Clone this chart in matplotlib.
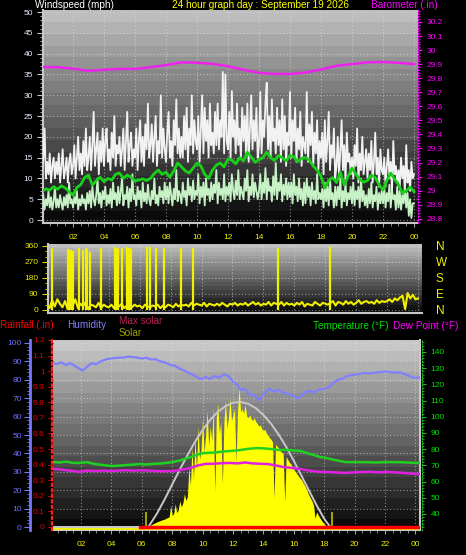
import numpy as np
import matplotlib
matplotlib.use('Agg')
import matplotlib.pyplot as plt
from matplotlib.ticker import MultipleLocator

plt.rcParams['font.family'] = ['Liberation Sans', 'DejaVu Sans']

# ---------------- data ----------------
hour_ticks = [2, 4, 6, 8, 10, 12, 14, 16, 18, 20, 22, 24]
hour_labels = ['02', '04', '06', '08', '10', '12', '14', '16', '18', '20', '22', '00']

# wind gust (mph), 5-minute samples from 00:00
gust = [12, 15, 22, 10, 14, 11, 16, 9, 13, 15, 10, 14,
        11, 16, 9, 13, 17, 10, 12, 15, 9, 14, 16, 11,
        13, 18, 10, 15, 20, 12, 16, 11, 19, 13, 22, 12,
        15, 20, 12, 18, 26, 13, 17, 21, 11, 19, 14, 22,
        13, 19, 22, 14, 17, 12, 21, 15, 25, 13, 18, 16,
        20, 13, 17, 22, 12, 19, 26, 14, 18, 21, 13, 17,
        15, 22, 12, 19, 24, 14, 20, 13, 23, 17, 28, 15,
        18, 23, 14, 20, 25, 13, 19, 16, 30, 15, 22, 17,
        14, 21, 26, 15, 19, 13, 24, 18, 29, 16, 22, 15,
        20, 15, 25, 17, 27, 14, 22, 18, 30, 16, 24, 19,
        17, 25, 14, 22, 30, 16, 27, 19, 24, 15, 28, 18,
        21, 16, 26, 18, 28, 17, 24, 20, 35.6, 16, 35, 19,
        17, 26, 15, 31, 20, 24, 16, 28, 18, 22, 15, 27,
        19, 25, 16, 28, 14, 22, 30, 17, 24, 19, 27, 15,
        18, 30.8, 16, 24, 20, 28, 33, 17, 25, 15, 29, 19,
        22, 16, 27, 18, 24, 14, 29, 17, 25, 13, 21, 18,
        30.8, 15, 24, 19, 27, 14, 22, 17, 26, 13, 20, 18,
        16, 30.8, 14, 23, 18, 26, 13, 21, 16, 24, 12, 19,
        15, 21, 11, 24, 14, 19, 26, 12, 18, 15, 22, 10,
        13, 20, 10, 17, 24, 12, 18, 9, 21, 14, 16, 11,
        15, 10, 18, 13, 22, 9, 16, 12, 20, 11, 14, 17,
        10, 16, 12, 19, 9, 14, 21, 11, 15, 8, 17, 12,
        11, 15, 8, 13, 17, 10, 14, 7, 19, 11, 13, 9,
        12, 8, 15, 10, 13, 6, 18, 9, 12, 7, 14, 10,
        11]

# wind speed (mph), 5-minute samples
wind = [4, 6, 2.5, 5, 3.5, 7, 3, 5.5, 2.5, 4.5, 8, 3,
        5, 3, 6, 4, 2.5, 5.5, 3.5, 6, 3, 9, 4, 5,
        3, 5.5, 4, 7, 2.5, 5, 3.5, 6, 4, 5, 2.5, 6.5,
        4, 7, 3, 8, 5, 3.5, 6, 10, 4, 6.5, 3, 7,
        5, 8, 3.5, 6, 4, 7.5, 3, 9, 5, 6.5, 3.5, 8,
        4, 7, 10, 3.5, 6, 5, 8, 3, 7.5, 4.5, 11, 5,
        6, 3.5, 8, 5, 7, 3, 9, 4.5, 6.5, 4, 8.5, 5,
        3.5, 7, 5, 10, 4, 6, 3.5, 8, 5.5, 7, 4, 9,
        5, 8, 4, 9, 6, 3.5, 7.5, 5, 12, 4.5, 7, 6,
        4, 9, 5.5, 7, 3.5, 10, 6, 8, 4.5, 9.5, 5, 7,
        6, 11, 4, 8, 5.5, 9, 3.5, 10, 6, 7.5, 4.5, 9,
        5, 8.5, 6.5, 12, 4, 9, 6, 7.5, 5, 11, 4.5, 8,
        6, 9, 4.5, 11, 7, 5, 9.5, 6, 12, 5, 8, 6.5,
        5, 10, 7, 12, 4.5, 8, 6, 11, 5.5, 9, 7, 5,
        7, 11, 5, 9, 6.5, 12.5, 5, 10, 7, 8, 4.5, 10.5,
        6, 13.7, 5, 9, 7, 11, 4.5, 8.5, 6, 10, 5, 9,
        5.5, 9, 4, 11, 6, 8, 4.5, 10, 5, 7.5, 3.5, 9,
        4, 10, 5.5, 8, 3.5, 9, 5, 7, 4, 11, 5, 6.5,
        5, 7.5, 3, 9, 4.5, 8, 3.5, 10, 5, 6.5, 3, 8,
        3.5, 8, 5, 10, 3, 7, 4.5, 9, 3.5, 6.5, 5, 8,
        4, 9, 3.5, 7, 5, 8, 3, 10, 4.5, 7, 3.5, 6,
        3, 7.5, 4, 9, 3, 6, 4.5, 8, 2.5, 6.5, 4, 7,
        4, 8, 3, 6.5, 4.5, 8.5, 3, 7, 5, 6, 2.5, 8,
        3, 7, 2.5, 6, 4, 8, 3, 6.5, 1, 5, 0.5, 4,
        4]

# 10-minute average wind (mph), 15-minute samples
wind_avg = [6.7, 7.5, 7.2, 8.0, 7.4, 8.2, 7.7, 6.8, 6.0, 7.8, 8.5, 10.2,
            10.8, 8.4, 9.5, 10.3, 9.2, 10.0, 9.6, 11.0, 11.3, 10.0, 10.8, 10.3,
            9.4, 9.6, 9.9, 9.5, 10.0, 11.2, 12.0, 11.0, 11.5, 10.3, 11.8, 13.7,
            12.8, 11.8, 11.3, 12.5, 13.7, 13.0, 11.0, 10.0, 12.0, 13.2, 13.7, 12.8,
            14.7, 14.4, 13.5, 15.0, 14.2, 16.3, 15.2, 13.9, 14.5, 15.0, 16.3, 15.0,
            14.3, 15.5, 15.0, 14.2, 15.5, 15.2, 14.0, 14.8, 15.0, 14.4, 13.0, 12.0,
            10.5, 7.7, 9.5, 10.2, 9.0, 11.5, 8.4, 10.5, 12.5, 11.0, 9.8, 9.1,
            9.5, 10.8, 10.2, 8.5, 7.2, 9.5, 11.3, 9.8, 8.5, 6.5, 7.0, 7.9,
            6.8]

# barometer (inHg), hourly
baro = [29.880, 29.878, 29.868, 29.852, 29.860, 29.866, 29.866, 29.878, 29.893,
        29.913, 29.910, 29.902, 29.885, 29.860, 29.838, 29.830, 29.830, 29.840,
        29.862, 29.888, 29.900, 29.913, 29.915, 29.910, 29.900]

# wind direction (deg), 10-minute samples
wind_dir = [30, 10, 55, 20, 60, 35,
            15, 50, 5, 40, 25, 60,
            10, 35, 20, 45, 5, 30,
            25, 15, 40, 10, 30, 20,
            15, 30, 10, 25, 20, 35,
            10, 25, 40, 15, 30, 20,
            25, 10, 30, 20, 15, 25,
            20, 30, 10, 25, 15, 30,
            25, 15, 35, 20, 30, 25,
            30, 20, 40, 25, 35, 30,
            25, 40, 20, 35, 30, 25,
            35, 25, 40, 30, 20, 35,
            30, 40, 25, 35, 30, 40,
            25, 35, 45, 30, 40, 25,
            35, 30, 45, 25, 40, 35,
            30, 45, 25, 40, 30, 35,
            25, 40, 30, 45, 20, 35,
            30, 25, 45, 35, 25, 40,
            35, 30, 40, 50, 25, 45,
            40, 30, 50, 35, 45, 30,
            40, 55, 35, 45, 50, 40,
            45, 35, 55, 40, 50, 45,
            50, 60, 45, 65, 55, 70,
            80, 5, 95, 65, 85, 60,
            65]
dir_spike_t = [0.32, 1.35, 1.42, 1.5, 1.58, 1.65, 2.06, 2.32, 2.5, 2.58, 2.77,
               3.48, 4.39, 4.52, 4.58, 4.84, 5.2, 5.28, 5.36, 5.45, 6.45, 6.65,
               7.03, 7.55, 8.65, 9.42, 14.97, 18.32]
dir_spike_v = [350, 345, 345, 340, 340, 330, 350, 335, 350, 345, 325,
               350, 355, 350, 345, 350, 355, 350, 350, 345, 355, 355,
               350, 350, 350, 350, 350, 355]

# humidity (%)
hum_t = [0.15, 0.4, 0.7, 1.0, 1.3, 1.6, 1.9, 2.1, 2.4, 2.7, 3.0, 3.3, 3.6, 3.9,
         4.2, 4.5, 4.8, 5.1, 5.4, 5.7, 6.0, 6.3, 6.6, 6.9, 7.2, 7.5, 7.9, 8.2,
         8.5, 8.8, 9.0, 9.3, 9.6, 9.9, 10.2, 10.5, 10.8, 11.1, 11.4, 11.7, 12.0,
         12.3, 12.5, 12.8, 13.1, 13.4, 13.7, 13.9, 14.1, 14.4, 14.7, 15.0, 15.3,
         15.6, 15.9, 16.2, 16.4, 16.7, 17.0, 17.3, 17.6, 18.0, 18.3, 18.6, 18.9,
         19.2, 19.5, 19.8, 20.2, 20.6, 21.0, 21.5, 22.0, 22.5, 23.0, 23.3, 23.6,
         24.0, 24.3]
hum = [89, 88.5, 89.5, 88, 89, 87.5, 86, 85, 87, 89, 88.5, 90, 91, 91.5,
       91.8, 92, 92, 92.6, 92.3, 92, 91.5, 92, 91, 91.2, 90, 89.5, 88, 87.5,
       86, 85, 84, 83, 81.5, 80.4, 81.5, 80.5, 82, 81, 83, 82, 79,
       77, 74.5, 75, 72, 71.5, 69, 71, 73, 75, 73.5, 74.5, 73,
       72.5, 71.5, 70, 70.5, 73, 74, 73, 74.5, 75, 76, 78.5, 80,
       80.5, 82, 82.6, 83, 83.7, 83.5, 84, 84.5, 84, 84, 83, 82,
       81, 81.2]

# temperature (F)
temp_t = [0.15, 0.6, 1.0, 1.5, 1.9, 2.4, 2.8, 3.2, 3.6, 4.0, 4.5, 5.0, 5.5, 5.9,
          6.3, 6.8, 7.3, 8.0, 8.5, 9.0, 9.2, 9.6, 10.0, 10.5, 10.9, 11.3, 11.7,
          12.0, 12.5, 13.0, 13.6, 14.0, 14.6, 15.0, 15.5, 16.0, 16.4, 16.8, 17.3,
          17.7, 18.1, 18.6, 19.0, 19.4, 20.0, 20.7, 21.3, 22.1, 22.8, 23.4, 24.0, 24.3]
temp = [72.1, 71.8, 72.3, 71.5, 71.5, 72, 71, 70.5, 70, 69.6, 69.8, 70.2, 70.5, 70.9,
        70.5, 71, 71.2, 72, 73, 74.5, 75, 76.5, 77.5, 77.8, 78, 78.5, 78.8,
        79, 79.5, 80.2, 80.7, 80.5, 80, 79.5, 79.6, 79.2, 79, 77.8, 76.4,
        75.2, 74.6, 73.5, 72.8, 72, 72, 72, 71.8, 72, 72, 71.8, 71.5, 71.5]

# dew point (F)
dew_t = [0.15, 0.6, 1.0, 1.5, 1.9, 2.4, 3.0, 3.5, 4.0, 4.5, 5.0, 5.5, 5.9, 6.4,
         7.0, 7.5, 8.0, 8.6, 9.2, 9.7, 10.2, 10.7, 11.2, 11.8, 12.3, 12.8, 13.3,
         13.8, 14.3, 14.8, 15.3, 15.8, 16.4, 17.0, 17.7, 18.5, 19.4, 20.2, 21.0,
         21.6, 22.1, 22.8, 23.4, 24.0, 24.3]
dew = [67.8, 67.5, 67, 66.5, 66, 66.8, 66.5, 66.8, 66.5, 66.8, 67, 66.7, 67, 66.8,
       66.5, 66.4, 66.5, 67.2, 68.4, 70, 70.9, 71, 71.3, 71.5, 71.2, 71.8, 71.2,
       71, 70.8, 70, 69, 68.5, 67.8, 66.8, 66, 65.8, 65.3, 65.8, 66,
       65.7, 66, 65.6, 65.2, 64.7, 64.8]

# solar radiation (W/m2), 6-minute samples from 06:18
solar = [0, 3, 8, 14, 20, 26, 30, 36, 40, 44,
         48, 52, 55, 60, 66, 70, 150, 80, 95, 160,
         100, 120, 180, 140, 165, 230, 185, 210, 420, 290,
         560, 330, 620, 400, 700, 470, 540, 760, 520, 640,
         810, 560, 700, 600, 830, 250, 760, 860, 650, 740,
         300, 720, 880, 690, 760, 900, 740, 780, 820, 450,
         800, 970, 800, 820, 790, 850, 770, 760, 780, 750,
         740, 760, 730, 720, 700, 710, 680, 670, 680, 650,
         640, 620, 610, 590, 200, 575, 560, 550, 530, 520,
         510, 180, 490, 470, 450, 440, 420, 400, 385, 370,
         355, 340, 330, 310, 290, 270, 245, 220, 200, 180,
         150, 60, 105, 85, 65, 50, 35, 22, 12, 5,
         0]
solar_start = 6.3
solar_step = 0.1

maxsolar_t = [0.2, 6.4, 6.5, 7.0, 7.5, 8.0, 8.5, 9.0, 9.5, 10.0, 10.5, 11.0, 11.5,
              12.0, 12.5, 13.0, 13.5, 14.0, 14.5, 15.0, 15.5, 16.0, 16.5, 17.0,
              17.5, 18.0, 18.4, 24.3]
maxsolar = [0, 0, 11, 94, 191, 296, 399, 498, 592, 674, 745, 800, 840,
            864, 869, 856, 826, 779, 718, 643, 557, 460, 357, 253,
            151, 57, 0, 0]

solar_mark_t = [6.3, 18.5]
solar_mark_v = [105, 105]

rain_t = [5.9, 24.3]
rain = [0.0, 0.0]

# ---------------- figure ----------------
W, H, DPI = 466, 555, 100
fig = plt.figure(figsize=(W / DPI, H / DPI), dpi=DPI, facecolor='black')


def px_axes(l, t, r, b):
    return fig.add_axes([l / W, 1 - b / H, (r - l) / W, (b - t) / H])


def backdrop(ax, xlim, ylim, top=0.74, bottom=0.04, steps=18):
    g = np.linspace(bottom, top, steps).reshape(-1, 1)
    ax.imshow(g, extent=[xlim[0], xlim[1], ylim[0], ylim[1]], origin='lower',
              aspect='auto', cmap='gray', vmin=0, vmax=1,
              interpolation='nearest', zorder=0)
    ax.set_xlim(*xlim)
    ax.set_ylim(*ylim)
    ax.set_facecolor('black')


GRID = dict(color='#e6e6e6', linestyle=(0, (1, 2)), linewidth=0.8, alpha=0.55)
FRAME = '#c8c8c8'
TXT = 7.2
TICK = 6

# ---- top panel: wind speed + barometer ----
XL = (0.065, 24.26)
ax_t = px_axes(43, 10, 418, 223)
backdrop(ax_t, XL, (-0.72, 50.5))
ax_t.set_xticks(hour_ticks)
ax_t.set_xticklabels(hour_labels)
ax_t.xaxis.set_minor_locator(MultipleLocator(0.5))
ax_t.set_yticks(range(0, 51, 5))
ax_t.yaxis.set_minor_locator(MultipleLocator(1))
ax_t.grid(True, which='major', **GRID)
ax_t.tick_params(axis='x', which='both', colors='#a0a0a0', labelcolor='#f0f000',
                 labelsize=TICK, length=3, pad=5)
ax_t.tick_params(axis='x', which='minor', length=2)
ax_t.tick_params(axis='y', which='both', colors=FRAME, labelcolor='#e4ecff',
                 labelsize=TICK, length=4, pad=3)
ax_t.tick_params(axis='y', which='minor', length=2)
for s in ['top', 'right']:
    ax_t.spines[s].set_visible(False)
for s in ['left', 'bottom']:
    ax_t.spines[s].set_color(FRAME)
    ax_t.spines[s].set_linewidth(1.5)

t5 = np.arange(len(gust)) / 12.0
tw5 = np.arange(len(wind)) / 12.0
t15 = np.arange(len(wind_avg)) * 0.25
ax_t.plot(t5, gust, color='#f2f2f2', lw=1.3, zorder=3)
ax_t.plot(tw5, wind, color='#c6f2c6', lw=1.3, zorder=4)
ax_t.plot(t15, wind_avg, color='#18d018', lw=2.0, zorder=5)

ax_baro = ax_t.twinx()
ax_baro.set_xlim(*XL)
ax_baro.set_ylim(28.77, 30.285)
ax_baro.plot(np.arange(len(baro)), baro, color='#ee22ee', lw=1.8)
bt = np.round(np.arange(28.8, 30.21, 0.1), 1)
ax_baro.set_yticks(bt)
ax_baro.set_yticklabels([f'{v:g}' for v in bt])
ax_baro.yaxis.set_minor_locator(MultipleLocator(0.02))
ax_baro.tick_params(axis='y', which='both', colors='#ff00ff', labelcolor='#ff00ff',
                    labelsize=TICK, length=3, pad=3)
ax_baro.tick_params(axis='y', which='minor', length=1.5)
for s in ['top', 'left', 'bottom']:
    ax_baro.spines[s].set_visible(False)
ax_baro.spines['right'].set_color('#ff00ff')
ax_baro.spines['right'].set_linestyle(':')

# ---- middle panel: wind direction ----
ax_m = px_axes(48, 244, 422, 313)
backdrop(ax_m, XL, (-17, 371))
ax_m.set_xticks(hour_ticks)
ax_m.tick_params(axis='x', labelbottom=False, length=0)
ax_m.set_yticks([0, 90, 180, 270, 360])
ax_m.yaxis.set_minor_locator(MultipleLocator(30))
ax_m.grid(True, which='major', **GRID)
ax_m.tick_params(axis='y', which='both', colors='#d8d800', labelcolor='#e8e800',
                 labelsize=TICK, length=4, pad=3)
ax_m.tick_params(axis='y', which='minor', length=2)
for s in ['top', 'right']:
    ax_m.spines[s].set_visible(False)
for s in ['left', 'bottom']:
    ax_m.spines[s].set_color(FRAME)
    ax_m.spines[s].set_linewidth(1.5)
t10 = np.arange(len(wind_dir)) / 6.0
ax_m.plot(t10, wind_dir, color='#f0f000', lw=1.5, zorder=3)
ax_m.vlines(dir_spike_t, 0, dir_spike_v, color='#f0f000', lw=1.6, zorder=3)

ax_mr = ax_m.twinx()
ax_mr.set_ylim(-17, 371)
ax_mr.set_yticks([0, 90, 180, 270, 360])
ax_mr.set_yticklabels(['N', 'E', 'S', 'W', 'N'])
ax_mr.tick_params(axis='y', length=0, pad=10, labelsize=8.5, labelcolor='#f0f000')
for s in ax_mr.spines.values():
    s.set_visible(False)

# ---- bottom panel ----
XB = (0.16, 24.3)
ax_bg = px_axes(53, 340, 420, 530)
backdrop(ax_bg, XB, (-1.6, 101.6), top=0.78)
ax_bg.set_xticks(hour_ticks)
ax_bg.set_xticklabels(hour_labels)
ax_bg.xaxis.set_minor_locator(MultipleLocator(0.5))
ax_bg.set_yticks(range(0, 101, 10))
ax_bg.grid(True, which='major', **GRID)
ax_bg.tick_params(axis='y', left=False, labelleft=False)
ax_bg.tick_params(axis='x', which='both', colors='#a0a0a0', labelcolor='#f0f000',
                  labelsize=TICK, length=3, pad=5)
ax_bg.tick_params(axis='x', which='minor', length=2)
for s in ['top', 'left']:
    ax_bg.spines[s].set_visible(False)
for s in ['right', 'bottom']:
    ax_bg.spines[s].set_color(FRAME)
    ax_bg.spines[s].set_linewidth(1.5)

ax_sol = ax_bg.twinx()
ax_sol.set_xlim(*XB)
ax_sol.set_ylim(-21, 1300)
ax_sol.axis('off')
t_sol = solar_start + np.arange(len(solar)) * solar_step
ax_sol.fill_between(t_sol, 0, solar, color='#ffff00', lw=0, zorder=2)
ax_sol.axhline(-10, color='#f0f000', lw=2)
ax_sol.vlines(solar_mark_t, 0, solar_mark_v, color='#a0a000', lw=1.5, zorder=3)
ax_sol.plot(maxsolar_t, maxsolar, color='#c8c8c8', lw=1.4, zorder=4)

ax_tp = ax_bg.twinx()
ax_tp.set_xlim(*XB)
ax_tp.set_ylim(30.1, 147.4)
ax_tp.plot(temp_t, temp, color='#20d020', lw=1.8)
ax_tp.plot(dew_t, dew, color='#e020e0', lw=1.8)
ax_tp.set_yticks(range(40, 141, 10))
ax_tp.yaxis.set_minor_locator(MultipleLocator(2))
ax_tp.tick_params(axis='y', which='both', colors='#20c020', labelcolor='#00e000',
                  labelsize=TICK, length=3, pad=3)
ax_tp.tick_params(axis='y', which='minor', length=1.5)
for s in ['top', 'left', 'bottom']:
    ax_tp.spines[s].set_visible(False)
ax_tp.spines['right'].set_color('#20c020')
ax_tp.spines['right'].set_linestyle(':')
ax_tp.spines['right'].set_position(('outward', 1.5))

ax_rn = ax_bg.twinx()
ax_rn.set_xlim(*XB)
ax_rn.set_ylim(-0.02, 1.2)
ax_rn.plot(rain_t, rain, color='#ff0000', lw=2.5)
ax_rn.yaxis.tick_left()
rt = np.round(np.arange(0, 1.21, 0.1), 1)
ax_rn.set_yticks(rt)
ax_rn.set_yticklabels([f'{v:g}' for v in rt])
ax_rn.yaxis.set_minor_locator(MultipleLocator(0.02))
ax_rn.tick_params(axis='y', which='both', colors='#e00000', labelcolor='#e00000',
                  labelsize=TICK, length=3, pad=2)
ax_rn.tick_params(axis='y', which='minor', length=1.5)
for s in ['top', 'right', 'bottom']:
    ax_rn.spines[s].set_visible(False)
ax_rn.spines['left'].set_color('#ff2020')
ax_rn.spines['left'].set_linestyle(':')
ax_rn.spines['left'].set_linewidth(1.5)
ax_rn.spines['left'].set_position(('outward', 1.0))

ax_hm = ax_bg.twinx()
ax_hm.set_xlim(*XB)
ax_hm.set_ylim(-1.6, 101.6)
ax_hm.plot(hum_t, hum, color='#8080ff', lw=1.6)
ax_hm.yaxis.tick_left()
ax_hm.set_yticks(range(0, 101, 10))
ax_hm.yaxis.set_minor_locator(MultipleLocator(2))
ax_hm.tick_params(axis='y', which='both', colors='#7878ff', labelcolor='#7070ff',
                  labelsize=TICK, length=4, pad=2)
ax_hm.tick_params(axis='y', which='minor', length=2)
for s in ['top', 'right', 'bottom']:
    ax_hm.spines[s].set_visible(False)
ax_hm.spines['left'].set_color('#7878ff')
ax_hm.spines['left'].set_linewidth(2)
ax_hm.spines['left'].set_position(('outward', 16.5))

# ---- texts ----
def ftext(x, y, s, c):
    fig.text(x / W, 1 - y / H, s, color=c, fontsize=TXT, ha='left', va='baseline')

ftext(35, 8, 'Windspeed (mph)', 'white')
ftext(172, 8, '24 hour graph day : September 19 2026', '#ffff00')
ftext(371, 8, 'Barometer (.in)', '#ff00ff')
ftext(0, 328, 'Rainfall (.in)', '#ff0000')
ftext(67, 328, 'Humidity', '#8080ff')
ftext(119, 324, 'Max solar', '#c0205a')
ftext(119, 336, 'Solar', '#a0a000')
ftext(313, 329, 'Temperature (°F)', '#00e000')
ftext(393, 329, 'Dew Point (°F)', '#ff00ff')

fig.savefig('out.png', dpi=DPI, facecolor='black')
